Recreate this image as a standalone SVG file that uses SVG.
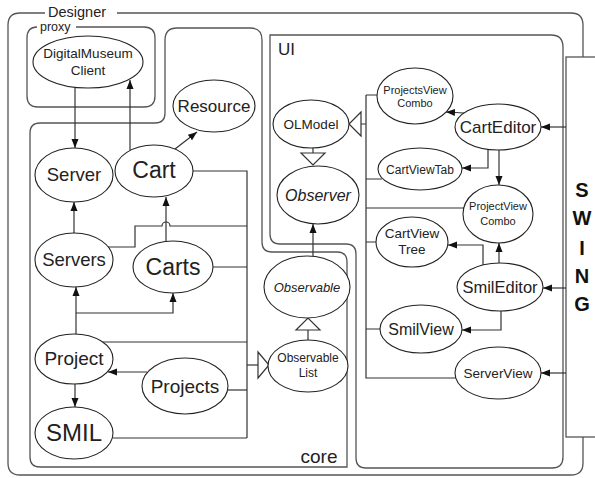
<svg xmlns="http://www.w3.org/2000/svg" width="595" height="478" viewBox="0 0 595 478">
<defs>
<marker id="arr" markerUnits="userSpaceOnUse" markerWidth="10" markerHeight="8" refX="9" refY="4" orient="auto">
<path d="M0,0.5 L9,4 L0,7.5 z" fill="#111"/>
</marker>
</defs>
<style>
text{font-family:"Liberation Sans",Arial,sans-serif;fill:#222;text-anchor:middle}
.box{fill:none;stroke:#555;stroke-width:1.3}
.n ellipse{fill:#fff;stroke:#222;stroke-width:1.1}
.c path,.c line{fill:none;stroke:#333;stroke-width:1.2}
.a{marker-end:url(#arr)}
.tri{fill:#fff;stroke:#333;stroke-width:1.1}
.lbl{text-anchor:start}
.sw{font-weight:bold;font-size:20px;fill:#111}
</style>
<rect width="595" height="478" fill="#fff"/>
<g id="boundaries">
<path class="box" d="M45 13 L20 13 Q8 13 8 25 L8 463 Q8 475 20 475 L571 475 Q583 475 583 463 L583 25 Q583 13 571 13 L117 13"/>
<text class="lbl" x="48" y="17" style="font-size:14.5px">Designer</text>
<path class="box" d="M37 27 Q27 27 27 38 L27 96 Q27 107 38 107 L144 107 Q155 107 155 96 L155 38 Q155 27 144 27 L76 27"/>
<text class="lbl" x="40" y="31" style="font-size:12.5px">proxy</text>
<path class="box" d="M30 133 Q30 123 40 123 L155 123 Q165 123 165 113 L165 40 Q165 28 177 28 L250 28 Q262 28 262 40 L262 242 Q262 252 272 252 L337 252 Q347 252 347 262 L347 467 L40 467 Q30 467 30 457 Z"/>
<text x="319" y="463" style="font-size:19px">core</text>
<path class="box" d="M270 35 L551 35 Q563 35 563 47 L563 457 Q563 468 552 468 L366 468 Q356 468 356 458 L356 254 Q356 244 346 244 L280 244 Q270 244 270 234 Z"/>
<text class="lbl" x="278" y="55" style="font-size:17px">UI</text>
</g>
<g id="SWING">
<rect x="566" y="57" width="40" height="380" fill="#fff" stroke="#555" stroke-width="1.3"/>
<text class="sw" x="582" y="197">S</text>
<text class="sw" x="582" y="225">W</text>
<text class="sw" x="582" y="255">I</text>
<text class="sw" x="582" y="283">N</text>
<text class="sw" x="582" y="311">G</text>
</g>
<g id="connectors" class="c">
<line class="a" x1="75" y1="88" x2="75" y2="148"/>
<line class="a" x1="130" y1="150" x2="130" y2="80"/>
<line class="a" x1="175" y1="149" x2="197" y2="132"/>
<line class="a" x1="74" y1="233" x2="74" y2="202"/>
<line class="a" x1="166" y1="241" x2="166" y2="197"/>
<line class="a" x1="76" y1="334" x2="76" y2="287"/>
<path class="a" d="M76 313 L173 313 L173 293"/>
<line class="a" x1="147" y1="372" x2="108" y2="372"/>
<line class="a" x1="75" y1="384" x2="75" y2="407"/>
<path d="M193 171 L247 171 L247 438"/>
<path d="M108 247 L135 247 L135 226 L162 226 A4 4 0 0 1 170 226 L247 226"/>
<path d="M213 267 L247 267"/>
<path d="M103 342 L247 342"/>
<path d="M228 390 L247 390"/>
<path d="M113 438 L247 438"/>
<path d="M247 365 L258 365"/>
<path class="tri" d="M258 352 L258 378 L269 365 Z"/>
<path d="M308 340 L308 330"/>
<path class="tri" d="M296 330 L320 330 L308 318 Z"/>
<line class="a" x1="313" y1="256" x2="313" y2="224"/>
<path d="M313 148 L313 153"/>
<path class="tri" d="M301 153 L325 153 L313 165 Z"/>
<path d="M366 95 L378 95 M366 95 L366 378 L456 378 M361 124 L366 124 M366 179 L382 179 M366 208 L464 208 M366 242 L377 242 M366 329 L381 329"/>
<path class="tri" d="M361 112 L361 136 L349 124 Z"/>
<line class="a" x1="464" y1="113" x2="446" y2="112"/>
<line class="a" x1="566" y1="127" x2="541" y2="127"/>
<path class="a" d="M488 149 L488 168 L462 168"/>
<line class="a" x1="499" y1="150" x2="499" y2="185"/>
<line class="a" x1="499" y1="263" x2="499" y2="243"/>
<path class="a" d="M483 265 L483 245 L448 245"/>
<path class="a" d="M501 311 L501 330 L462 330"/>
<line class="a" x1="566" y1="288" x2="543" y2="288"/>
<line class="a" x1="566" y1="373" x2="541" y2="373"/>
</g>
<g id="DigitalMuseumClient" class="n"><ellipse cx="88" cy="62" rx="55" ry="26"/><text x="88" y="58" style="font-size:13.5px">DigitalMuseum</text><text x="88" y="75" style="font-size:13.5px">Client</text></g>
<g id="Resource" class="n"><ellipse cx="214" cy="106" rx="41" ry="26"/><text x="214" y="112" style="font-size:17px">Resource</text></g>
<g id="Server" class="n"><ellipse cx="74" cy="175" rx="39" ry="27"/><text x="74" y="181" style="font-size:18.5px">Server</text></g>
<g id="Cart" class="n"><ellipse cx="154" cy="171" rx="39" ry="26"/><text x="154" y="178" style="font-size:23px">Cart</text></g>
<g id="Servers" class="n"><ellipse cx="74" cy="260" rx="39" ry="27"/><text x="74" y="266" style="font-size:18.5px">Servers</text></g>
<g id="Carts" class="n"><ellipse cx="173" cy="267" rx="40" ry="26"/><text x="173" y="275" style="font-size:23px">Carts</text></g>
<g id="Project" class="n"><ellipse cx="74" cy="359" rx="39" ry="25"/><text x="74" y="365" style="font-size:19px">Project</text></g>
<g id="Projects" class="n"><ellipse cx="185" cy="386" rx="43" ry="28"/><text x="185" y="393" style="font-size:19px">Projects</text></g>
<g id="SMIL" class="n"><ellipse cx="74" cy="433" rx="39" ry="26"/><text x="74" y="441" style="font-size:24px">SMIL</text></g>
<g id="Observable" class="n"><ellipse cx="307" cy="287" rx="43" ry="31"/><text x="307" y="292" style="font-size:13px;font-style:italic">Observable</text></g>
<g id="ObservableList" class="n"><ellipse cx="308" cy="366" rx="40" ry="26"/><text x="308" y="362" style="font-size:12px">Observable</text><text x="308" y="377" style="font-size:12px">List</text></g>
<g id="OLModel" class="n"><ellipse cx="311" cy="124" rx="38" ry="24"/><text x="311" y="129" style="font-size:13.5px">OLModel</text></g>
<g id="Observer" class="n"><ellipse cx="318" cy="195" rx="41" ry="29"/><text x="318" y="201" style="font-size:16px;font-style:italic">Observer</text></g>
<g id="ProjectsViewCombo" class="n"><ellipse cx="415" cy="96" rx="38" ry="28"/><text x="415" y="94" style="font-size:11px">ProjectsView</text><text x="415" y="107" style="font-size:11px">Combo</text></g>
<g id="CartEditor" class="n"><ellipse cx="498" cy="127" rx="43" ry="23"/><text x="498" y="133" style="font-size:17px">CartEditor</text></g>
<g id="CartViewTab" class="n"><ellipse cx="420" cy="169" rx="42" ry="21"/><text x="420" y="174" style="font-size:12px">CartViewTab</text></g>
<g id="ProjectViewCombo" class="n"><ellipse cx="498" cy="214" rx="35" ry="29"/><text x="498" y="210" style="font-size:11px">ProjectView</text><text x="498" y="225" style="font-size:11px">Combo</text></g>
<g id="CartViewTree" class="n"><ellipse cx="412" cy="242" rx="36" ry="25"/><text x="412" y="238" style="font-size:13.5px">CartView</text><text x="412" y="254" style="font-size:13.5px">Tree</text></g>
<g id="SmilEditor" class="n"><ellipse cx="500" cy="287" rx="43" ry="24"/><text x="500" y="293" style="font-size:16.5px">SmilEditor</text></g>
<g id="SmilView" class="n"><ellipse cx="421" cy="329" rx="41" ry="24"/><text x="421" y="335" style="font-size:16px">SmilView</text></g>
<g id="ServerView" class="n"><ellipse cx="498" cy="373" rx="43" ry="26"/><text x="498" y="378" style="font-size:13.5px">ServerView</text></g>
</svg>
